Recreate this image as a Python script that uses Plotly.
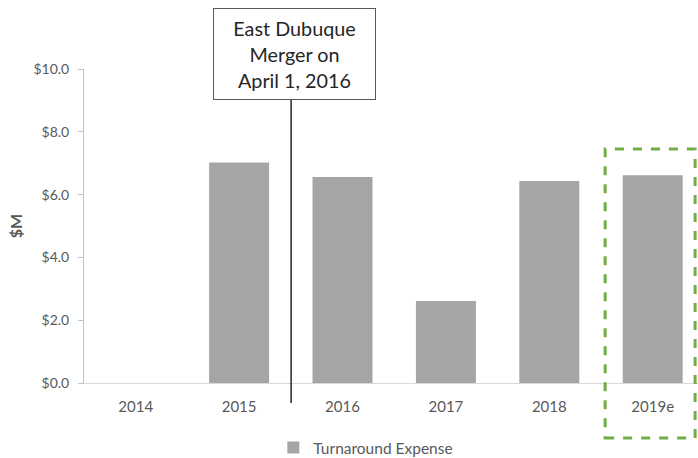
import plotly.graph_objects as go

categories = ["2014", "2015", "2016", "2017", "2018", "2019e"]
turnaround = [None, 7.02, 6.56, 2.61, 6.43, 6.62]
y_ticks = [0, 2, 4, 6, 8, 10]
y_tick_labels = ["$0.0", "$2.0", "$4.0", "$6.0", "$8.0", "$10.0"]

FONT = "Lato, 'Open Sans', sans-serif"
GRAY_TXT = "#595959"

fig = go.Figure()
fig.add_trace(go.Bar(
    x=categories, y=turnaround, name="Turnaround Expense",
    marker=dict(color="#a5a5a5", line=dict(width=0)),
    width=0.58,
))

fig.update_layout(
    width=698, height=458,
    margin=dict(l=84, r=0, t=69, b=75, autoexpand=False),
    plot_bgcolor="white", paper_bgcolor="white",
    font=dict(family=FONT, color=GRAY_TXT, size=14),
    showlegend=True,
    legend=dict(orientation="h", x=0.459, xanchor="center", y=-0.207, yanchor="middle",
                font=dict(size=15.5, color=GRAY_TXT), itemwidth=30),
    xaxis=dict(type="category", range=[-0.5, 5.438], showgrid=False, automargin=False,
               showline=True, linecolor="#d9d9d9", linewidth=1,
               ticks="", ticklabelstandoff=10, tickfont=dict(size=15, color=GRAY_TXT)),
    yaxis=dict(range=[0, 10], tickvals=y_ticks, ticktext=y_tick_labels, automargin=False,
               showgrid=False, zeroline=False, showline=True, linecolor="#bfbfbf",
               linewidth=1, ticks="outside", ticklen=5, tickcolor="#bfbfbf",
               ticklabelstandoff=6,
               tickfont=dict(size=14, color=GRAY_TXT),
               title=dict(text="<b>$M</b>", font=dict(size=16, color=GRAY_TXT), standoff=6)),
)

# merger line
fig.add_shape(type="line", xref="x", yref="paper", x0=1.503, x1=1.503, y0=-0.064, y1=0.901,
              line=dict(color="#262626", width=1.5))
# forecast dashed box
fig.add_shape(type="rect", xref="x", yref="paper", x0=4.54, x1=5.41, y0=-0.175, y1=0.745,
              line=dict(color="#70ad47", width=3, dash="dash"), fillcolor="rgba(0,0,0,0)")

fig.add_annotation(xref="x", yref="paper", x=1.532, y=0.901, yanchor="bottom", xanchor="center",
                   text="East Dubuque<br>Merger on<br>April 1, 2016", showarrow=False,
                   font=dict(size=19.8, color="#262626", family=FONT),
                   bgcolor="white", bordercolor="#595959", borderwidth=1,
                   width=151, height=80, borderpad=5)

fig.write_html("out.html", config={"displayModeBar": False},
               post_script="document.body.style.margin='0';")
